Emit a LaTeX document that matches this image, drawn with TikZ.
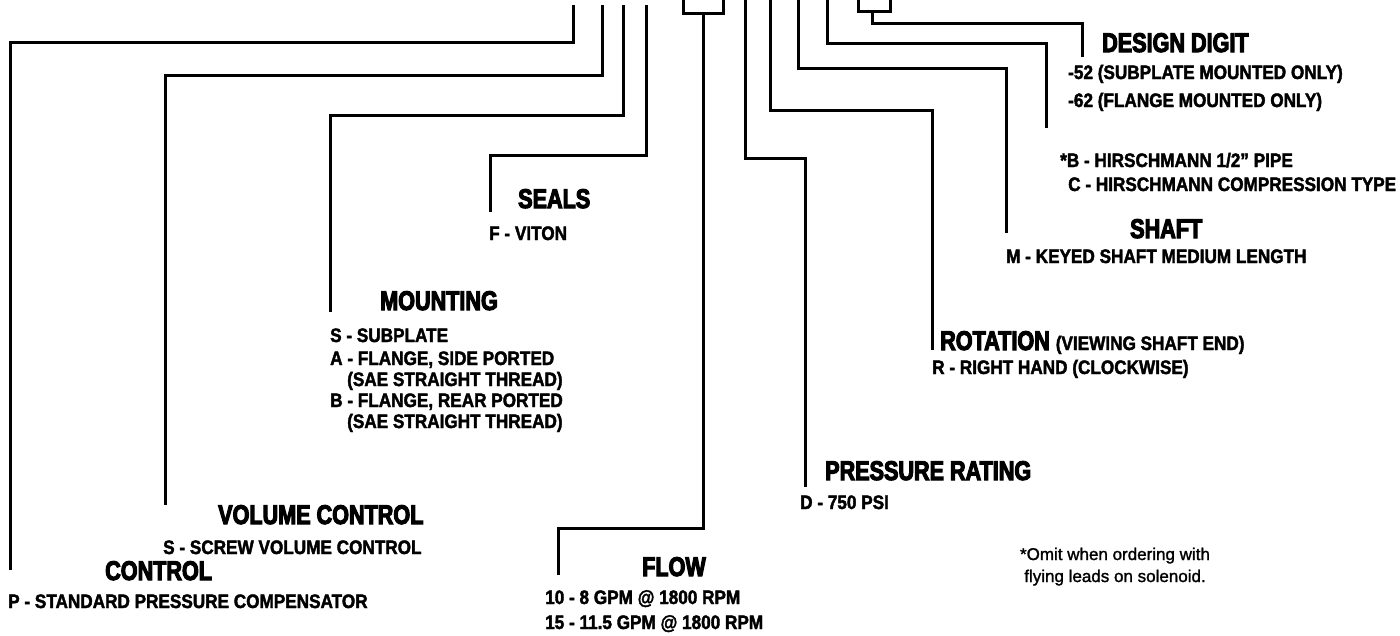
\documentclass[tikz,border=0pt]{standalone}
\usepackage{fontspec}
\setmainfont{Liberation Sans}
\newfontfamily\hfont{Liberation Sans}[BoldFeatures={FakeStretch=0.8,FakeBold=4}]
\newfontfamily\bfont{Liberation Sans}[BoldFeatures={FakeStretch=0.88,FakeBold=2}]
\newfontfamily\nfont{Liberation Sans}[FakeBold=1.5]
\begin{document}
\begin{tikzpicture}[x=1pt,y=-1pt,
  ln/.style={line width=3pt, line join=miter},
  head/.style={inner sep=0pt, anchor=base west, font=\hfont\bfseries\fontsize{27}{27}\selectfont},
  item/.style={inner sep=0pt, anchor=base west, font=\bfont\bfseries\fontsize{19.5}{19.5}\selectfont},
  note/.style={inner sep=0pt, anchor=base, align=center, font=\nfont\fontsize{17}{22}\selectfont},
  boxk/.style={draw, line width=3pt, inner sep=0pt, anchor=south}
]
\useasboundingbox (0,0) rectangle (1400,635);
% ---------- texts ----------
\node[head] (hctl) at (105,580) {CONTROL};
\node[item] (ictl) at (8,608) {P - STANDARD PRESSURE COMPENSATOR};
\node[head] (hvol) at (218,524) {VOLUME CONTROL};
\node[item] (ivol) at (163,554) {S - SCREW VOLUME CONTROL};
\node[head] (hmnt) at (380,310) {MOUNTING};
\node[item] (imnt1) at (330,342) {S - SUBPLATE};
\node[item] (imnt2) at (330,365) {A - FLANGE, SIDE PORTED};
\node[item] (imnt3) at (347,386) {(SAE STRAIGHT THREAD)};
\node[item] (imnt4) at (330,407) {B - FLANGE, REAR PORTED};
\node[item] (imnt5) at (347,428) {(SAE STRAIGHT THREAD)};
\node[head] (hseal) at (518,208) {SEALS};
\node[item] (iseal) at (489,240) {F - VITON};
\node[head] (hflow) at (642,576) {FLOW};
\node[item] (iflow1) at (545,604) {10 - 8 GPM @ 1800 RPM};
\node[item] (iflow2) at (545,629) {15 - 11.5 GPM @ 1800 RPM};
\node[head] (hpres) at (825,480) {PRESSURE RATING};
\node[item] (ipres) at (800,509) {D - 750 PSI};
\node[head] (hrot) at (940,350) {ROTATION {\bfont\fontsize{19.5}{19.5}\selectfont (VIEWING SHAFT END)}};
\node[item] (irot) at (932,374) {R - RIGHT HAND (CLOCKWISE)};
\node[head] (hsh) at (1130,238) {SHAFT};
\node[item] (ish) at (1006,263) {M - KEYED SHAFT MEDIUM LENGTH};
\node[item] (icon1) at (1060,167) {*B - HIRSCHMANN 1/2” PIPE};
\node[item] (icon2) at (1068,191) {C - HIRSCHMANN COMPRESSION TYPE};
\node[head] (hdd) at (1102,52) {DESIGN DIGIT};
\node[item] (idd1) at (1068,79) {-52 (SUBPLATE MOUNTED ONLY)};
\node[item] (idd2) at (1068,107) {-62 (FLANGE MOUNTED ONLY)};
\node[note] (fn) at (1115,582) {*Omit when ordering with\\flying leads on solenoid.};
% ---------- code boxes ----------
\node[boxk, minimum width=40pt, minimum height=30pt] (fbox) at (703,15) {};
\node[boxk, minimum width=32pt, minimum height=30pt] (dbox) at (874,13) {};
% ---------- connectors ----------
\coordinate (t1) at (573,5);  \coordinate (k1) at (573,42);  \coordinate (e1) at (10,570);
\coordinate (t2) at (602,5);  \coordinate (k2) at (602,75);  \coordinate (e2) at (165,505);
\coordinate (t3) at (623,5);  \coordinate (k3) at (623,115); \coordinate (e3) at (330,312);
\coordinate (t4) at (646,5);  \coordinate (k4) at (646,155); \coordinate (e4) at (490,212);
\coordinate (k5) at (703,528); \coordinate (e5) at (558,575);
\coordinate (t6) at (745,0);  \coordinate (k6) at (745,158); \coordinate (e6) at (805,487);
\coordinate (t7) at (770,0);  \coordinate (k7) at (770,110); \coordinate (e7) at (932,350);
\coordinate (t8) at (798,0);  \coordinate (k8) at (798,68);  \coordinate (e8) at (1006,233);
\coordinate (t9) at (827,0);  \coordinate (k9) at (827,43);  \coordinate (e9) at (1046,128);
\coordinate (k10) at (872,23); \coordinate (e10) at (1082,57);
\draw[ln] (t1) -- (k1) -| (e1);
\draw[ln] (t2) -- (k2) -| (e2);
\draw[ln] (t3) -- (k3) -| (e3);
\draw[ln] (t4) -- (k4) -| (e4);
\draw[ln] (fbox.south) -- (k5) -| (e5);
\draw[ln] (t6) -- (k6) -| (e6);
\draw[ln] (t7) -- (k7) -| (e7);
\draw[ln] (t8) -- (k8) -| (e8);
\draw[ln] (t9) -- (k9) -| (e9);
\draw[ln] (dbox.south -| k10) -- (k10) -| (e10);
\end{tikzpicture}
\end{document}
